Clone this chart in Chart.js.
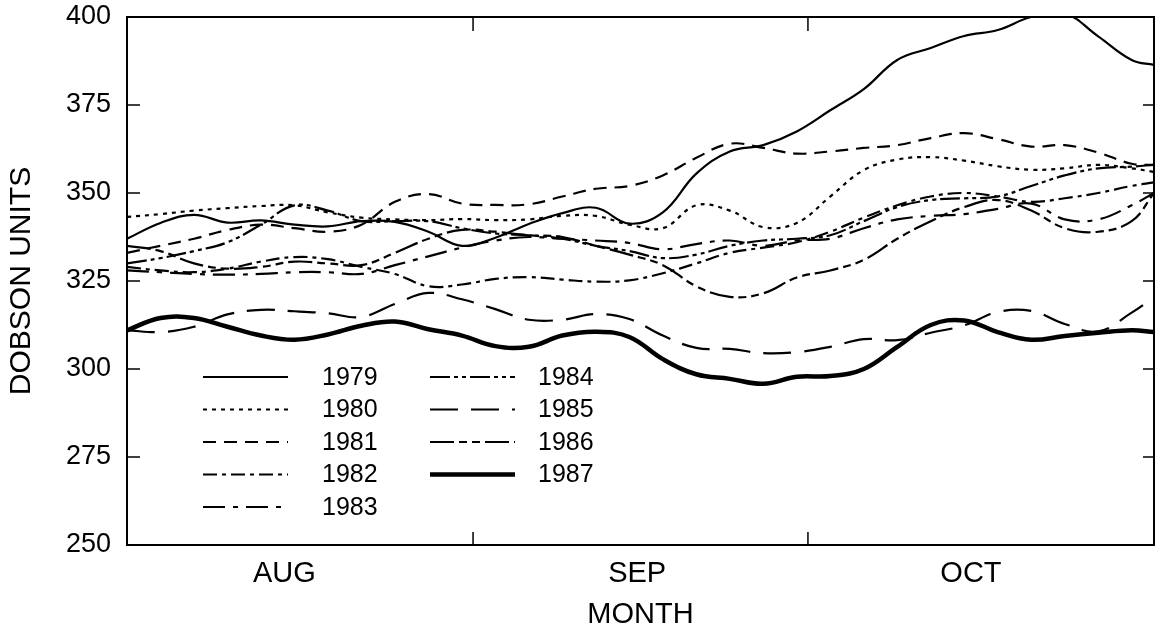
<!DOCTYPE html>
<html>
<head>
<meta charset="utf-8">
<script src="https://cdn.jsdelivr.net/npm/chart.js@4.4.1/dist/chart.umd.min.js"></script>
<style>
  html, body { margin: 0; padding: 0; background: #fff; }
</style>
</head>
<body>
<canvas id="chart" width="1155" height="632"></canvas>
<script>
// days counted from Aug 1
const days = [0, 3, 6, 9, 12, 15, 18, 21, 24, 27, 30, 33, 36, 39, 42, 45, 48, 51, 54, 57, 60, 63, 66, 69, 72, 75, 78, 81, 84, 87, 90, 92];
const monthNames = ['AUG', 'SEP', 'OCT'];
const monthCenters = [14.1, 45.7, 75.6];
const monthBounds = [31, 61];
const yTicks = [250, 275, 300, 325, 350, 375, 400];

const v1979 = [337, 341.5, 343.8, 341.6, 342.2, 341, 340.5, 342, 341.8, 339, 335, 337.3, 341.2, 344.3, 345.8, 341.3, 344.5, 355.5, 361.8, 363.6, 367.5, 373.5, 379.5, 387.8, 391.2, 394.6, 396.3, 400, 401, 394.5, 387.8, 386.4];
const v1980 = [343.2, 344, 345, 345.7, 346.3, 346.5, 344.5, 343, 342.5, 342.3, 342.6, 342.3, 342.5, 343.5, 343.5, 341, 340, 346.5, 345, 340.3, 341.5, 349, 356.5, 359.5, 360.2, 359.2, 357.6, 356.6, 357, 358, 357, 356];
const v1981 = [333, 335, 337, 339.5, 341, 340, 339, 341, 347.5, 349.7, 347, 346.6, 346.8, 349, 351.2, 352, 355, 360, 364, 362.8, 361.2, 361.8, 362.8, 363.6, 365.6, 367, 365.3, 363.2, 363.6, 361.5, 358.3, 358];
const v1982 = [329, 328, 327.5, 328.5, 330.5, 331.8, 331.2, 329, 327, 323.5, 324, 325.6, 326.1, 325.4, 324.8, 325.2, 327.2, 330, 333, 334.5, 336, 339, 343, 346.5, 349, 350, 349, 347.5, 348.5, 350, 352, 353];
const v1983 = [328, 327.5, 327, 326.8, 327, 327.5, 327.5, 327, 329.5, 332, 334.5, 336.5, 337.5, 337, 336.5, 335.8, 334, 335.5, 336.5, 335, 336.5, 337, 340, 342.5, 343.5, 344, 345.5, 347, 342.5, 342.5, 346.5, 350];
const v1984 = [330, 331.5, 333.5, 336, 341, 346.5, 345, 342, 342, 342, 340, 338.5, 338, 337, 335, 333.5, 331.5, 332.5, 335, 336.5, 337, 338, 342, 346, 348, 348.5, 349, 352, 355, 357, 357.5, 358];
const v1985 = [311, 310.5, 312, 315.5, 316.8, 316.4, 315.8, 314.8, 318.5, 321.6, 319.8, 317, 314, 314, 315.6, 314.2, 309.5, 306, 305.7, 304.5, 304.8, 306.3, 308.5, 308.2, 310.3, 312.4, 316.2, 316.5, 312.8, 310.7, 316, 320.4];
const v1986 = [335, 333.5, 330, 328.5, 329, 330.5, 330, 329.5, 333, 337, 339.5, 339, 338, 337.5, 335, 332.5, 329.5, 323.5, 320.5, 321.5, 326, 328, 331, 337, 342, 346, 348, 345, 340, 339, 342, 350];
const v1987 = [311, 314.5, 314.5, 312, 309.5, 308.3, 309.8, 312.3, 313.5, 311.3, 309.5, 306.5, 306.3, 309.5, 310.6, 309.1, 302.8, 298.5, 297.2, 295.8, 297.8, 298, 300, 306.3, 312.5, 313.8, 310.5, 308.3, 309.4, 310.3, 311, 310.5];

const FONT = '"Liberation Sans", Arial, Helvetica, sans-serif';

function series(label, values, dash, width) {
  return {
    label,
    data: values.map((v, i) => ({ x: days[i], y: v })),
    borderColor: '#000',
    borderWidth: width,
    borderDash: dash,
    pointRadius: 0,
    tension: 0.4,
    fill: false
  };
}

const datasets = [
  series('1979', v1979, [], 2.2),
  series('1980', v1980, [4, 5], 2.2),
  series('1981', v1981, [13, 8], 2.2),
  series('1982', v1982, [14, 5, 4, 5], 2.2),
  series('1983', v1983, [22, 8, 5, 8], 2.2),
  series('1984', v1984, [20, 4, 4, 4, 4, 4], 2.2),
  series('1985', v1985, [28, 13], 2.2),
  series('1986', v1986, [24, 5, 8, 5, 8, 5], 2.2),
  series('1987', v1987, [], 4.5)
];

// frame box with inward tick marks
const framePlugin = {
  id: 'frame',
  afterDatasetsDraw(chart) {
    const { ctx, chartArea: a, scales: { x, y } } = chart;
    ctx.save();
    ctx.strokeStyle = '#000';
    ctx.lineWidth = 2;
    ctx.strokeRect(a.left, a.top, a.right - a.left, a.bottom - a.top);
    ctx.lineWidth = 1.5;
    ctx.beginPath();
    yTicks.forEach(t => {
      const py = y.getPixelForValue(t);
      ctx.moveTo(a.left, py); ctx.lineTo(a.left + 13, py);
      ctx.moveTo(a.right, py); ctx.lineTo(a.right - 11, py);
    });
    monthBounds.forEach(d => {
      const px = x.getPixelForValue(d);
      ctx.moveTo(px, a.bottom); ctx.lineTo(px, a.bottom - 13);
      ctx.moveTo(px, a.top); ctx.lineTo(px, a.top + 14);
    });
    ctx.stroke();
    ctx.restore();
  }
};

// two-column legend inside the plot
const legendPlugin = {
  id: 'boxLegend',
  afterDraw(chart) {
    const { ctx, chartArea: a } = chart;
    const x0 = a.left + 76, y0 = a.top + 360;
    chart.data.datasets.forEach((ds, i) => {
      const col = i < 5 ? 0 : 1;
      const row = i < 5 ? i : i - 5;
      const x = x0 + col * 227;
      const yy = y0 + row * 32.5;
      ctx.save();
      ctx.strokeStyle = '#000';
      ctx.lineWidth = ds.borderWidth;
      ctx.setLineDash(ds.borderDash);
      ctx.beginPath();
      ctx.moveTo(x, yy);
      ctx.lineTo(x + 85, yy);
      ctx.stroke();
      ctx.setLineDash([]);
      ctx.fillStyle = '#000';
      ctx.font = '25px ' + FONT;
      ctx.textBaseline = 'middle';
      ctx.fillText(ds.label, x + (col ? 108 : 119), yy + 1);
      ctx.restore();
    });
  }
};

new Chart(document.getElementById('chart'), {
  type: 'line',
  data: { datasets },
  options: {
    responsive: false,
    devicePixelRatio: 1,
    animation: false,
    layout: { padding: { top: 17, right: 1, left: 0, bottom: 0 } },
    plugins: {
      legend: { display: false },
      tooltip: { enabled: false }
    },
    scales: {
      x: {
        type: 'linear',
        min: 0,
        max: 92,
        afterFit: s => { s.height = 87; s.paddingLeft = 0; s.paddingRight = 0; },
        afterBuildTicks: s => { s.ticks = monthCenters.map(v => ({ value: v })); },
        grid: { display: false, drawTicks: false },
        border: { display: false },
        ticks: {
          autoSkip: false,
          maxRotation: 0,
          padding: 12,
          color: '#000',
          font: { family: FONT, size: 29 },
          callback: (value, index) => monthNames[index]
        },
        title: {
          display: true,
          text: 'MONTH',
          color: '#000',
          font: { family: FONT, size: 29 },
          padding: { top: 0, bottom: 0 }
        }
      },
      y: {
        min: 250,
        max: 400,
        afterFit: s => { s.width = 127; s.paddingTop = 0; s.paddingBottom = 0; },
        afterBuildTicks: s => { s.ticks = yTicks.map(v => ({ value: v })); },
        grid: { display: false, drawTicks: false },
        border: { display: false },
        ticks: {
          padding: 16,
          color: '#000',
          font: { family: FONT, size: 27 }
        },
        title: {
          display: true,
          text: 'DOBSON UNITS',
          color: '#000',
          font: { family: FONT, size: 30 },
          padding: { top: 4, bottom: 0 }
        }
      }
    }
  },
  plugins: [framePlugin, legendPlugin]
});
</script>
</body>
</html>
